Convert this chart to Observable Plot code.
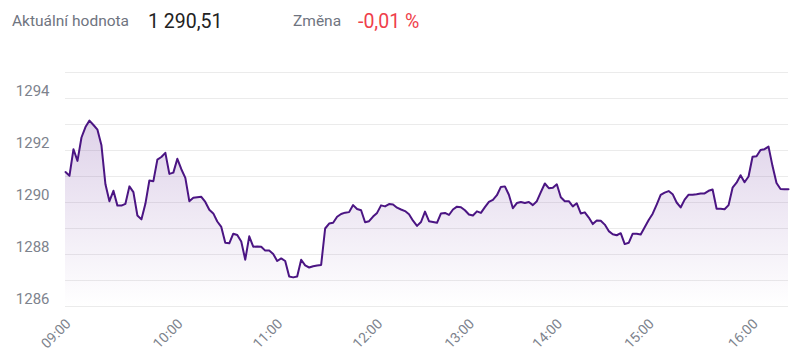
<!DOCTYPE html>
<html><head><meta charset="utf-8">
<script src="https://cdn.jsdelivr.net/npm/d3@7"></script>
<script src="https://cdn.jsdelivr.net/npm/@observablehq/plot@0.6"></script>
<style>
body{margin:0;background:#fff;font-family:Roboto,sans-serif;width:800px;height:362px;overflow:hidden}
#hdr{height:40px;position:relative}
#hdr span{position:absolute;white-space:nowrap;line-height:1}
.lbl{color:#6f7480;font-size:15.5px;top:14px}
.val{font-size:19.5px;top:12px}
</style></head><body>
<div id="hdr"></div>
<div id="chart"></div>
<script>
const headerLabels = ["Aktuální hodnota", "Změna"];
const currentValue = "1 290,51";
const changeValue = "-0,01 %";

const values = [
1291.17,1291.03,1292.05,1291.6,1292.5,1292.9,1293.15,1292.98,1292.8,1292.2,
1290.7,1290.05,1290.45,1289.88,1289.88,1289.95,1290.62,1290.4,1289.5,1289.35,
1289.95,1290.85,1290.82,1291.65,1291.75,1291.91,1291.1,1291.15,1291.68,1291.28,
1290.95,1290.05,1290.18,1290.2,1290.22,1290.02,1289.72,1289.58,1289.27,1289.06,
1288.45,1288.43,1288.8,1288.75,1288.5,1287.8,1288.7,1288.3,1288.31,1288.3,
1288.15,1288.15,1288.02,1287.75,1287.85,1287.75,1287.15,1287.12,1287.15,1287.8,
1287.58,1287.5,1287.55,1287.58,1287.6,1289.0,1289.19,1289.22,1289.45,1289.56,
1289.61,1289.63,1289.9,1289.75,1289.7,1289.24,1289.28,1289.46,1289.6,1289.89,
1289.85,1289.94,1289.92,1289.8,1289.73,1289.67,1289.55,1289.3,1289.1,1289.25,
1289.65,1289.28,1289.25,1289.22,1289.58,1289.6,1289.52,1289.73,1289.84,1289.82,
1289.7,1289.54,1289.5,1289.66,1289.6,1289.82,1290.02,1290.1,1290.28,1290.6,
1290.62,1290.3,1289.78,1289.98,1290.02,1289.98,1290.02,1289.9,1290.05,1290.4,
1290.73,1290.55,1290.57,1290.7,1290.2,1290.05,1290.05,1289.85,1289.97,1289.58,
1289.62,1289.42,1289.17,1289.31,1289.3,1289.15,1288.9,1288.78,1288.74,1288.82,
1288.4,1288.45,1288.8,1288.8,1288.77,1289.05,1289.33,1289.57,1289.92,1290.29,
1290.38,1290.44,1290.32,1290.0,1289.81,1290.11,1290.3,1290.3,1290.32,1290.35,
1290.35,1290.45,1290.5,1289.76,1289.76,1289.74,1289.9,1290.57,1290.76,1291.05,
1290.78,1291.0,1291.76,1291.78,1292.02,1292.05,1292.15,1291.4,1290.75,1290.52,
1290.51,1290.51
];

const hourLabels = ["09:00","10:00","11:00","12:00","13:00","14:00","15:00","16:00"];
const hourIndex = [0, 28, 53, 78, 101, 123, 146, 172];
const yTicks = [1286, 1288, 1290, 1292, 1294];
const yGrid = [1286, 1287, 1288, 1289, 1290, 1291, 1292, 1293, 1294, 1295];

const hdr = document.getElementById("hdr");
function addSpan(text, cls, left, color) {
  const s = document.createElement("span");
  s.className = cls; s.textContent = text; s.style.left = left + "px";
  if (color) s.style.color = color;
  hdr.appendChild(s);
}
addSpan(headerLabels[0], "lbl", 12);
addSpan(currentValue, "val", 148, "#222");
addSpan(headerLabels[1], "lbl", 293);
addSpan(changeValue, "val", 358, "#ef3e4a");

const data = values.map((v, i) => ({i, v}));

const chart = Plot.plot({
  width: 800, height: 322,
  marginLeft: 65, marginRight: 12, marginTop: 32, marginBottom: 56,
  style: {fontFamily: "Roboto, sans-serif", background: "#fff", overflow: "visible"},
  x: {type: "linear", domain: [0, values.length - 1], label: null},
  y: {domain: [1286, 1295], label: null},
  marks: [
    Plot.ruleY(yGrid, {stroke: "#ebebeb", strokeWidth: 1}),
    Plot.areaY(data, {x: "i", y1: 1286, y2: "v", fill: "url(#areaGrad)"}),
    Plot.lineY(data, {x: "i", y: "v", stroke: "#4b1583", strokeWidth: 2, strokeLinejoin: "round"}),
    Plot.axisY(yTicks, {tickSize: 0, tickPadding: 16, dy: -7, fontSize: 15, color: "#7d838d", label: null, tickFormat: d => String(d)}),
    Plot.axisX(hourIndex, {tickSize: 0, tickPadding: 15, tickRotate: -45, fontSize: 14, dx: 3, color: "#7d838d", label: null,
      tickFormat: d => hourLabels[hourIndex.indexOf(d)]})
  ]
});

const svg = d3.select(chart);
const defs = svg.insert("defs", ":first-child");
const g = defs.append("linearGradient").attr("id", "areaGrad")
  .attr("x1", 0).attr("y1", 0).attr("x2", 0).attr("y2", 1);
g.append("stop").attr("offset", "0%").attr("stop-color", "#7b4aa6").attr("stop-opacity", 0.25);
g.append("stop").attr("offset", "100%").attr("stop-color", "#7b4aa6").attr("stop-opacity", 0.0);

document.getElementById("chart").appendChild(chart);
</script>
</body></html>
